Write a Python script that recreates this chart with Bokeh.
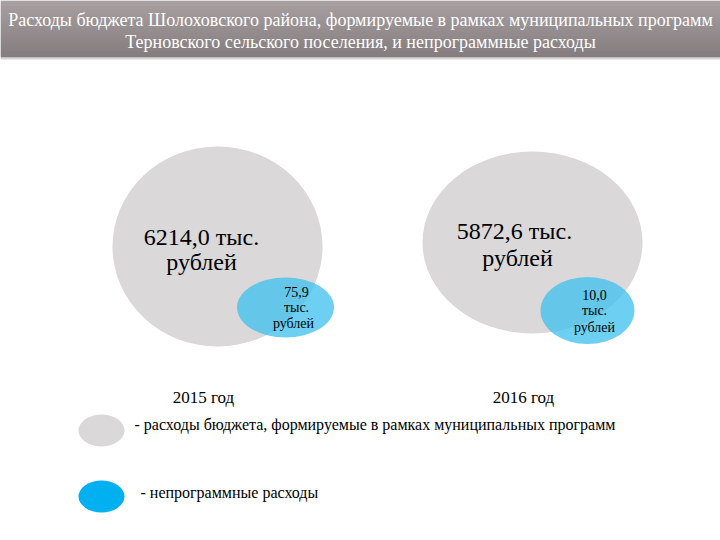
from bokeh.plotting import figure
from bokeh.models import Range1d
from bokeh.core.properties import value
from bokeh.embed import file_html
from bokeh.resources import INLINE

title_lines = ["Расходы бюджета Шолоховского района, формируемые в рамках муниципальных программ",
               "Терновского сельского поселения, и непрограммные расходы"]
years = ["2015 год", "2016 год"]
program_values = ["6214,0", "5872,6"]
nonprogram_values = ["75,9", "10,0"]
unit_line1 = "тыс."
unit_line2 = "рублей"
legend_labels = ["- расходы бюджета, формируемые в рамках муниципальных программ",
                 "- непрограммные расходы"]

FONT = value("'Liberation Serif', 'Times New Roman', serif")

p = figure(width=720, height=540, output_backend="svg", toolbar_location=None,
           x_range=Range1d(0, 720), y_range=Range1d(540, 0), min_border=0)
p.axis.visible = False
p.grid.visible = False
p.outline_line_color = None
p.background_fill_color = "white"
p.border_fill_color = "white"

# title bar gradient
n = 57
tops, bottoms, cols = [], [], []
c0 = (0x8c, 0x81, 0x83)
c1 = (0x5c, 0x52, 0x54)
for i in range(n):
    t = i / (n - 1)
    c = tuple(int(round(a + (b - a) * t)) for a, b in zip(c0, c1))
    tops.append(i)
    bottoms.append(i + 1.05)
    cols.append("#%02x%02x%02x" % c)
p.quad(left=0, right=720, top=tops, bottom=bottoms, fill_color=cols, line_color=None)
p.quad(left=0, right=720, top=57, bottom=59, fill_color="#d8d4d4", line_color=None)

p.text(x=[360, 360], y=[19, 41], text=title_lines, text_font=FONT, text_font_size="18px",
       text_color="white", text_align="center", text_baseline="middle")

# big circles (program spending)
big_x = [217, 532]
big_y = [246, 242]
big_w = [210, 220]
big_h = [200, 182]
p.ellipse(x=big_x, y=big_y, width=big_w, height=big_h, fill_color="#dad8d8", line_color=None)

# small circles (non-program spending)
sm_x = [285, 587]
sm_y = [307, 310]
sm_w = [97, 94]
sm_h = [60, 67]
p.ellipse(x=sm_x, y=sm_y, width=sm_w, height=sm_h, fill_color="#3cc0ee", fill_alpha=0.75,
          line_color=None)

# big labels
p.text(x=[201, 517], y=[236, 230],
       text=[program_values[0] + " " + unit_line1, program_values[1] + "  " + unit_line1],
       text_font=FONT, text_font_size="24px", text_color="black",
       text_align="center", text_baseline="middle")
p.text(x=[201, 517], y=[261, 257], text=[unit_line2, unit_line2],
       text_font=FONT, text_font_size="24px", text_color="black",
       text_align="center", text_baseline="middle")

# small labels
p.text(x=[296, 594], y=[291, 294], text=nonprogram_values, text_font=FONT, text_font_size="14px",
       text_color="black", text_align="center", text_baseline="middle")
p.text(x=[296, 594], y=[307, 310], text=[unit_line1, unit_line1], text_font=FONT, text_font_size="14px",
       text_color="black", text_align="center", text_baseline="middle")
p.text(x=[293, 594], y=[323, 327], text=[unit_line2, unit_line2], text_font=FONT, text_font_size="14px",
       text_color="black", text_align="center", text_baseline="middle")

# years
p.text(x=[203, 523], y=[397, 397], text=years, text_font=FONT, text_font_size="17px",
       text_color="black", text_align="center", text_baseline="middle")

# legend
p.ellipse(x=[101, 101], y=[430, 496], width=[46, 46], height=[32, 32],
          fill_color=["#dad8d8", "#00b0f0"], line_color=None)
p.text(x=[134, 140], y=[424, 492], text=legend_labels, text_font=FONT, text_font_size="16px",
       text_color="black", text_align="left", text_baseline="middle")

open("out.html", "w").write(file_html(p, INLINE))
